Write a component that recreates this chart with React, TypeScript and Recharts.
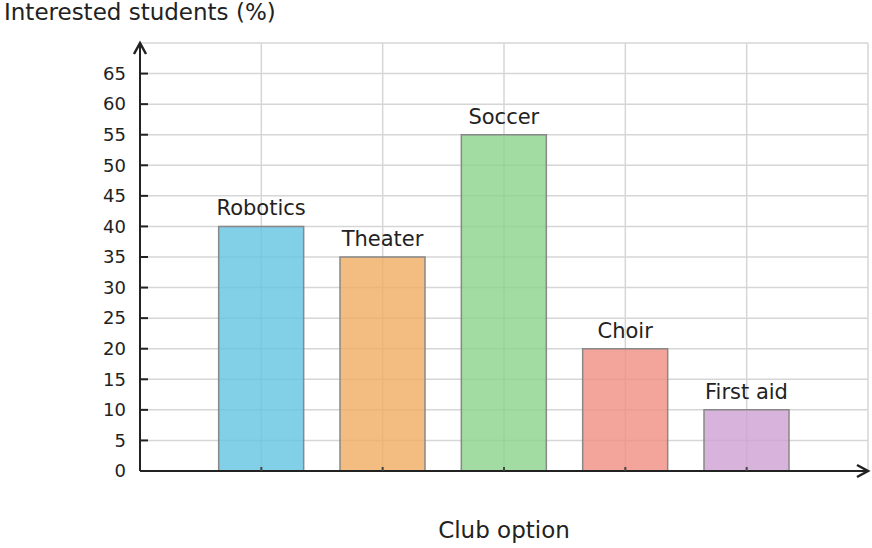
import React from 'react'
import {
  BarChart,
  Bar,
  XAxis,
  YAxis,
  CartesianGrid,
  LabelList,
  Cell,
  ReferenceDot,
} from 'recharts'

const CLUBS = ['Robotics', 'Theater', 'Soccer', 'Choir', 'First aid']
const INTEREST = [40, 35, 55, 20, 10]
const COLORS = ['#63C3E2', '#F0AC63', '#8BD38B', '#F08E83', '#CEA1D3']
const Y_TICKS = [0, 5, 10, 15, 20, 25, 30, 35, 40, 45, 50, 55, 60, 65, 70]
const X_TICKS = [1, 2, 3, 4, 5, 6]

const FONT = '"DejaVu Sans", sans-serif'
const INK = '#222222'

const data = CLUBS.map((name, i) => ({ name, pos: i + 1, value: INTEREST[i] }))

const YTick = ({ x, y, payload }: any) => {
  if (payload.value === 70) return null
  return (
    <g>
      <line x1={x} y1={y} x2={x + 8} y2={y} stroke={INK} strokeWidth={2} />
      <text x={x - 14} y={y} dy="0.35em" textAnchor="end" fontSize={18} fill={INK} fontFamily={FONT}>
        {payload.value}
      </text>
    </g>
  )
}

const XTick = ({ x, y, payload }: any) => {
  if (payload.value > 5) return null
  return <line x1={x} y1={y} x2={x} y2={y - 4} stroke="#444" strokeWidth={2} />
}

const UpArrow = ({ cx, cy }: any) => (
  <polyline
    points={`${cx - 6},${cy + 11} ${cx},${cy} ${cx + 6},${cy + 11}`}
    fill="none"
    stroke={INK}
    strokeWidth={2.5}
  />
)

const RightArrow = ({ cx, cy }: any) => (
  <polyline
    points={`${cx - 11},${cy - 6} ${cx},${cy} ${cx - 11},${cy + 6}`}
    fill="none"
    stroke={INK}
    strokeWidth={2.5}
  />
)

export default function App() {
  return (
    <div style={{ position: 'relative', width: 872, height: 548, fontFamily: FONT, color: INK }}>
      <style>{`body{margin:0}`}</style>
      <div style={{ position: 'absolute', left: 4, top: -1, fontSize: 23, lineHeight: '27px', whiteSpace: 'nowrap' }}>
        Interested students (%)
      </div>
      <div
        style={{
          position: 'absolute',
          left: 404,
          width: 200,
          textAlign: 'center',
          top: 517,
          fontSize: 23,
          lineHeight: '27px',
          whiteSpace: 'nowrap',
        }}
      >
        Club option
      </div>
      <BarChart width={872} height={548} data={data} margin={{ top: 43, right: 4, left: 0, bottom: 0 }}>
        <CartesianGrid stroke="#d6d6d6" strokeWidth={1.5} horizontal vertical />
        <XAxis
          dataKey="pos"
          type="number"
          domain={[0, 6]}
          ticks={X_TICKS}
          height={77}
          tickLine={false}
          tickSize={0}
          tickMargin={0}
          tick={<XTick />}
          axisLine={{ stroke: INK, strokeWidth: 2 }}
        />
        <YAxis
          type="number"
          domain={[0, 70]}
          ticks={Y_TICKS}
          width={140}
          tickLine={false}
          tickSize={0}
          tickMargin={0}
          tick={<YTick />}
          axisLine={{ stroke: INK, strokeWidth: 2 }}
        />
        <Bar dataKey="value" barSize={85} stroke="#888888" strokeWidth={1.5} fillOpacity={0.8} isAnimationActive={false}>
          {data.map((d, i) => (
            <Cell key={d.name} fill={COLORS[i]} />
          ))}
          <LabelList dataKey="name" position="top" offset={11} fontSize={21} fill={INK} fontFamily={FONT} />
        </Bar>
        <ReferenceDot x={0} y={70} ifOverflow="visible" shape={<UpArrow />} />
        <ReferenceDot x={6} y={0} ifOverflow="visible" shape={<RightArrow />} />
      </BarChart>
    </div>
  )
}
